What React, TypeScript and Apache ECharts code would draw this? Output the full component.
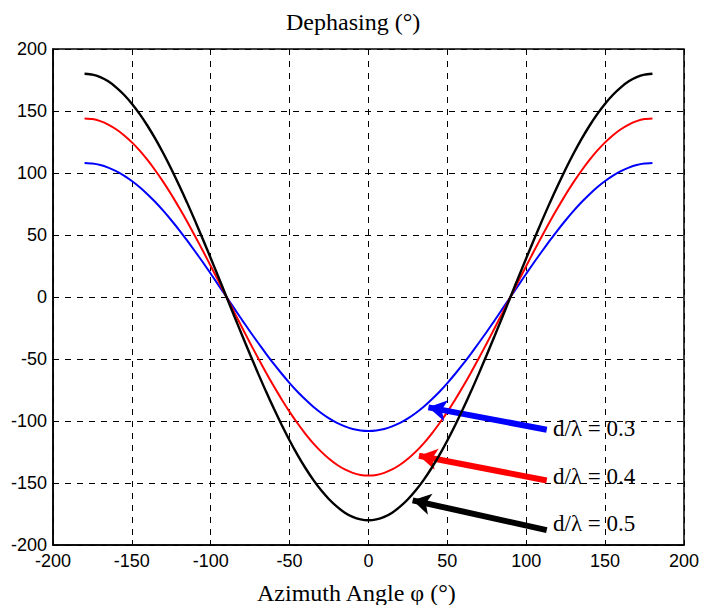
import React, { useEffect, useRef } from "react";
import * as echarts from "echarts";

const phi = [-180, -175, -170, -165, -160, -155, -150, -145, -140, -135, -130, -125, -120, -115, -110, -105, -100, -95, -90, -85, -80, -75, -70, -65, -60, -55, -50, -45, -40, -35, -30, -25, -20, -15, -10, -5, 0, 5, 10, 15, 20, 25, 30, 35, 40, 45, 50, 55, 60, 65, 70, 75, 80, 85, 90, 95, 100, 105, 110, 115, 120, 125, 130, 135, 140, 145, 150, 155, 160, 165, 170, 175, 180];
const d03 = [108, 107.6, 106.4, 104.3, 101.5, 97.9, 93.5, 88.5, 82.7, 76.4, 69.4, 61.9, 54, 45.6, 36.9, 28, 18.8, 9.4, 0,
  -9.4, -18.8, -28, -36.9, -45.6, -54, -61.9, -69.4, -76.4, -82.7, -88.5, -93.5, -97.9, -101.5, -104.3, -106.4, -107.6, -108,
  -107.6, -106.4, -104.3, -101.5, -97.9, -93.5, -88.5, -82.7, -76.4, -69.4, -61.9, -54, -45.6, -36.9, -28, -18.8, -9.4, 0,
  9.4, 18.8, 28, 36.9, 45.6, 54, 61.9, 69.4, 76.4, 82.7, 88.5, 93.5, 97.9, 101.5, 104.3, 106.4, 107.6, 108];
const d04 = [144, 143.5, 141.8, 139.1, 135.3, 130.5, 124.7, 118, 110.3, 101.8, 92.6, 82.6, 72, 60.9, 49.2, 37.3, 25, 12.6, 0,
  -12.6, -25, -37.3, -49.2, -60.9, -72, -82.6, -92.6, -101.8, -110.3, -118, -124.7, -130.5, -135.3, -139.1, -141.8, -143.5, -144,
  -143.5, -141.8, -139.1, -135.3, -130.5, -124.7, -118, -110.3, -101.8, -92.6, -82.6, -72, -60.9, -49.2, -37.3, -25, -12.6, 0,
  12.6, 25, 37.3, 49.2, 60.9, 72, 82.6, 92.6, 101.8, 110.3, 118, 124.7, 130.5, 135.3, 139.1, 141.8, 143.5, 144];
const d05 = [180, 179.3, 177.3, 173.9, 169.1, 163.1, 155.9, 147.5, 137.9, 127.3, 115.7, 103.2, 90, 76.1, 61.6, 46.6, 31.3, 15.7, 0,
  -15.7, -31.3, -46.6, -61.6, -76.1, -90, -103.2, -115.7, -127.3, -137.9, -147.5, -155.9, -163.1, -169.1, -173.9, -177.3, -179.3, -180,
  -179.3, -177.3, -173.9, -169.1, -163.1, -155.9, -147.5, -137.9, -127.3, -115.7, -103.2, -90, -76.1, -61.6, -46.6, -31.3, -15.7, 0,
  15.7, 31.3, 46.6, 61.6, 76.1, 90, 103.2, 115.7, 127.3, 137.9, 147.5, 155.9, 163.1, 169.1, 173.9, 177.3, 179.3, 180];

const labels = ["d/λ = 0.3", "d/λ = 0.4", "d/λ = 0.5"];
const colors = ["#0000ff", "#ff0000", "#000000"];
// arrow tail / head in data coordinates
const arrowTails = [[113, -107], [113, -148], [113, -188]];
const arrowHeads = [[38, -89], [32, -128], [28, -164]];

const serif = "'Liberation Serif', 'Times New Roman', serif";
const sans = "'Liberation Sans', Arial, sans-serif";

export default function App() {
  const ref = useRef<HTMLDivElement>(null);
  useEffect(() => {
    const chart = echarts.init(ref.current!, null, { renderer: "svg" });
    const mk = (vals: number[]) => phi.map((p, i) => [p, vals[i]]);
    const seriesData = [d03, d04, d05];
    const series: any[] = seriesData.map((vals, i) => ({
      type: "line",
      data: mk(vals),
      smooth: 0.2,
      showSymbol: false,
      lineStyle: { color: colors[i], width: i === 2 ? 2.4 : 2 },
      z: 3 + i,
      markLine: {
        silent: true,
        symbol: ["none", "arrow"],
        symbolSize: [16, 18],
        label: { show: false },
        lineStyle: { color: colors[i], width: 6, type: "solid" },
        data: [[{ coord: arrowTails[i] }, { coord: arrowHeads[i] }]],
      },
    }));
    const axisCommon = {
      type: "value",
      min: -200,
      max: 200,
      interval: 50,
      axisLine: { show: true, onZero: false, lineStyle: { color: "#000", width: 1.5 } },
      axisTick: { show: true, inside: true, length: 5, lineStyle: { color: "#000" } },
      axisLabel: { color: "#000", fontSize: 18, fontFamily: sans, margin: 6 },
      splitLine: { show: true, lineStyle: { color: "#000", type: [6, 6], width: 1 } },
    };
    chart.setOption({
      animation: false,
      backgroundColor: "#fff",
      grid: { left: 53, right: 18, top: 49, bottom: 60, show: true, borderColor: "#000", borderWidth: 1.5 },
      xAxis: { ...axisCommon, axisLabel: { ...axisCommon.axisLabel, margin: 7 } },
      yAxis: { ...axisCommon },
      graphic: [
        { type: "text", x: 286, y: 22, style: { text: "Dephasing (°)", font: `24px ${serif}`, fill: "#000", align: "left", verticalAlign: "middle" } },
        { type: "text", x: 257, y: 593, style: { text: "Azimuth Angle φ (°)", font: `24px ${serif}`, fill: "#000", align: "left", verticalAlign: "middle" } },
        ...labels.map((t, i) => ({
          type: "text",
          x: 553,
          y: [428, 476, 523][i],
          z: 10,
          style: { text: t, font: `23px ${serif}`, fill: "#000", align: "left", verticalAlign: "middle" },
        })),
      ],
      series,
    });
    return () => chart.dispose();
  }, []);
  return <div ref={ref} style={{ width: 702, height: 605, position: "absolute", left: 0, top: 0 }} />;
}
